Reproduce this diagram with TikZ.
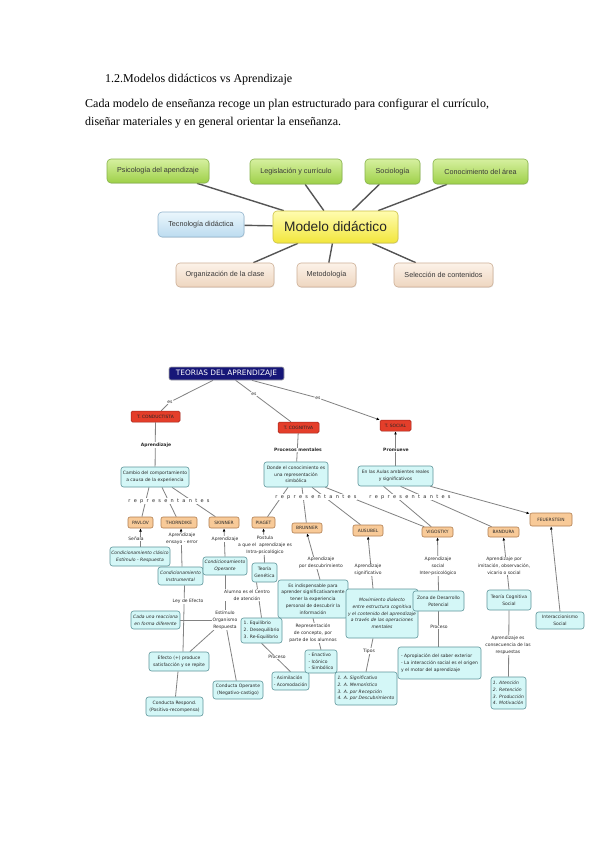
\documentclass[tikz,border=0pt]{standalone}
\usepackage{fontspec}
\setmainfont{Liberation Serif}
\newfontfamily\arialf{Liberation Sans}
\newfontfamily\cmapf{DejaVu Sans}
\usetikzlibrary{arrows.meta,shadows}
\pgfdeclarelayer{bgpage}
\pgfdeclarelayer{bglines}
\pgfsetlayers{bgpage,bglines,main}

\definecolor{gtop}{RGB}{214,240,160}
\definecolor{gbot}{RGB}{158,208,72}
\definecolor{gdraw}{RGB}{135,180,75}
\definecolor{ytop}{RGB}{255,252,175}
\definecolor{ybot}{RGB}{242,230,60}
\definecolor{ydraw}{RGB}{205,195,70}
\definecolor{btop}{RGB}{235,246,252}
\definecolor{bbot}{RGB}{188,220,240}
\definecolor{bdraw}{RGB}{145,180,205}
\definecolor{ttop}{RGB}{252,242,232}
\definecolor{tbot}{RGB}{238,214,192}
\definecolor{tdraw}{RGB}{205,175,150}
\definecolor{mline}{RGB}{85,85,85}
\definecolor{cfill}{RGB}{212,247,247}
\definecolor{cdraw}{RGB}{95,150,155}
\definecolor{pfill}{RGB}{248,202,152}
\definecolor{pdraw}{RGB}{175,125,80}
\definecolor{rfill}{RGB}{228,62,42}
\definecolor{rdraw}{RGB}{160,35,25}
\definecolor{navyc}{RGB}{22,22,120}
\definecolor{clinec}{RGB}{130,130,130}
\definecolor{ctext}{RGB}{40,40,40}

\newcommand\cmf{\cmapf\fontsize{4.5}{6.8}\selectfont}
\newcommand\repword{{\spaceskip=3.3pt plus 0pt r e p r e s e n t a n t e s}}

\tikzset{
  mb/.style={rounded corners=4pt, draw, line width=0.6pt, inner sep=0pt,
    font=\arialf\fontsize{7.2}{8}\selectfont, text=black!78,
    drop shadow={opacity=0.18,shadow xshift=0.6pt,shadow yshift=-0.8pt}},
  mgreen/.style={mb, top color=gtop, bottom color=gbot, draw=gdraw},
  myellow/.style={mb, top color=ytop, bottom color=ybot, draw=ydraw},
  mblue/.style={mb, top color=btop, bottom color=bbot, draw=bdraw},
  mtan/.style={mb, top color=ttop, bottom color=tbot, draw=tdraw},
  sz/.style 2 args={minimum width=#1pt, minimum height=#2pt},
  ml/.style={draw=mline, line width=1.4pt},
  cb/.style={draw=cdraw, fill=cfill, rounded corners=2.5pt, line width=0.6pt,
    inner sep=0.8pt, font=\cmf, text=ctext, align=center},
  pb/.style={draw=pdraw, fill=pfill, rounded corners=2pt, line width=0.6pt,
    inner sep=0.5pt, font=\cmapf\fontsize{4.4}{5}\selectfont, text=ctext},
  rb/.style={draw=rdraw, fill=rfill, rounded corners=1.5pt, line width=0.5pt,
    inner sep=0.5pt, font=\cmapf\fontsize{4.4}{5}\selectfont, text=black!85},
  tb/.style={draw=black!35, fill=navyc, rounded corners=2pt, line width=0.6pt,
    inner sep=0.5pt, font=\cmapf\fontsize{7.4}{8}\selectfont, text=white},
  lb/.style={fill=white, inner sep=0.6pt, font=\cmf, text=ctext, align=center},
  cl/.style={draw=clinec, line width=0.8pt},
  ar/.style={-{Latex[length=3.2pt,width=2.8pt,color=black]}},
}

\begin{document}
\begin{tikzpicture}[x=1pt,y=-1pt]
\begin{pgfonlayer}{bgpage}
\fill[white] (0,0) rectangle (599,848);
\end{pgfonlayer}
\useasboundingbox (0,0) rectangle (599,848);

% ---------- header text ----------
\node[anchor=base west, inner sep=0, font=\fontsize{12}{14}\selectfont] (title) at (105,83)
  {1.2.Modelos didácticos vs Aprendizaje};
\node[anchor=base west, inner sep=0, font=\fontsize{12}{14}\selectfont] (par1) at (85,108)
  {Cada modelo de enseñanza recoge un plan estructurado para configurar el currículo,};
\node[anchor=base west, inner sep=0, font=\fontsize{12}{14}\selectfont] (par2) at (85,125)
  {diseñar materiales y en general orientar la enseñanza.};

% ---------- Modelo didactico ----------
\node[mgreen, sz={102}{24}] (psi) at (158,171) {Psicología del apendizaje};
\node[mgreen, sz={92}{25}] (leg) at (296,171.5) {Legislación y currículo};
\node[mgreen, sz={55}{25}] (soc) at (392.5,171.5) {Sociología};
\node[mgreen, sz={95}{25}] (con) at (480.5,171.5) {Conocimiento del área};
\node[mblue, sz={86}{25}] (tec) at (201,224.5) {Tecnología didáctica};
\node[myellow, sz={125}{32}, font=\arialf\fontsize{13.7}{15}\selectfont, text=black!85] (mod) at (335.5,227) {Modelo didáctico};
\node[mtan, sz={98}{24}] (org) at (225,275) {Organización de la clase};
\node[mtan, sz={59}{24}] (met) at (326.5,275) {Metodología};
\node[mtan, sz={99}{24}] (sel) at (443.5,275) {Selección de contenidos};

\begin{pgfonlayer}{bglines}
\foreach \n in {psi,leg,soc,con,tec,org,met,sel} {\draw[ml] (\n) -- (mod);}
\end{pgfonlayer}

% ---------- Teorias del aprendizaje ----------
\node[tb, sz={115}{13}] (teo) at (226.5,373.5) {TEORIAS DEL APRENDIZAJE};
\node[rb, sz={49}{11}] (cond) at (155.5,416.5) {T. CONDUCTISTA};
\node[rb, sz={41}{11}] (cogn) at (298.5,427.5) {T. COGNITIVA};
\node[rb, sz={31}{11}] (tsoc) at (395.5,425.5) {T. SOCIAL};

\node[lb] (es1) at (170,402) {es};
\node[lb] (es2) at (254,394) {es};
\node[lb] (es3) at (318,398) {es};

\node[lb, font=\cmf\bfseries] (lapr) at (156,445) {Aprendizaje};
\node[lb, font=\cmf\bfseries] (lpro) at (298,450) {Procesos mentales};
\node[lb, font=\cmf\bfseries] (lpromu) at (396,450) {Promueve};

\node[cb, sz={68}{20}] (cam) at (155,477) {Cambio del comportamiento\\a causa de la experiencia};
\node[cb, sz={64}{25}] (don) at (296,474.5) {Donde el conocimiento es\\una representación\\simbólica};
\node[cb, sz={75}{20}] (aul) at (395.5,476) {En las Aulas ambientes reales\\y significativos};

\node[lb, font=\cmapf\fontsize{5}{6}\selectfont] (rep1) at (169,501) {\repword};
\node[lb, font=\cmapf\fontsize{5}{6}\selectfont] (rep2) at (316,497) {\repword};
\node[lb, font=\cmapf\fontsize{5}{6}\selectfont] (rep3) at (410,497) {\repword};

\node[pb, sz={25}{11}] (pav) at (140.5,522.5) {PAVLOV};
\node[pb, sz={36}{11}] (tho) at (179,522.5) {THORNDIKE};
\node[pb, sz={30}{11}] (ski) at (224,522.5) {SKINNER};
\node[pb, sz={23}{11}] (pia) at (263.5,522.5) {PIAGET};
\node[pb, sz={30}{10}] (bru) at (307,528) {BRUNNER};
\node[pb, sz={30}{11}] (aus) at (368,530.5) {AUSUBEL};
\node[pb, sz={31}{10}] (vig) at (437.5,532) {VIGOSTKY};
\node[pb, sz={31}{10}] (ban) at (503.5,532) {BANDURA};
\node[pb, sz={42}{13}] (feu) at (551,519.5) {FEUERSTEIN};

% labels level 2
\node[lb] (lsen) at (136,539) {Señala};
\node[lb] (lens) at (182,539) {Aprendizaje\\ensayo - error};
\node[lb] (lski) at (225,539) {Aprendizaje};
\node[lb] (lpos) at (265,545) {Postula\\a que el \ aprendizaje es\\Intra-psicológico};
\node[lb] (ldes) at (321,563) {Aprendizaje\\por descubrimiento};
\node[lb] (lsig) at (368,570) {Aprendizaje\\significativo};
\node[lb] (lsoc) at (438,566) {Aprendizaje\\social\\Inter-psicológico};
\node[lb] (limi) at (504,566) {Aprendizaje por\\imitación, observación,\\vicario o social};

% boxes level 2
\node[cb, sz={60}{19}, font=\cmf\itshape] (cla) at (140,556.5) {Condicionamiento clásico\\Estímulo - Respuesta};
\node[cb, sz={45}{18}, font=\cmf\itshape] (ins) at (180.5,576) {Condicionamiento\\Instrumental};
\node[cb, sz={44}{18}, font=\cmf\itshape] (ope) at (225,566) {Condicionamiento\\Operante};
\node[cb, sz={25}{19}] (gen) at (264.5,572.5) {Teoría\\Genética};
\node[cb, sz={70}{38}] (ind) at (313,599) {Es indispensable para\\aprender significativamente\\tener la experiencia\\personal de descubrir la\\información};
\node[cb, sz={72}{49}, font=\cmf\itshape] (mov) at (382,613.5) {Movimiento dialecto\\entre estructura cognitiva\\y el contenido del aprendizaje\\a través de las operaciones\\mentales};
\node[cb, sz={51}{20}] (zon) at (438.5,601) {Zona de Desarrollo\\Potencial};
\node[cb, sz={44}{20}] (tcs) at (509,600) {Teoría Cognitiva\\Social};
\node[cb, sz={48}{17}] (int) at (560,620.5) {Interaccionismo\\Social};

% labels level 3
\node[lb] (lley) at (188,601) {Ley de Efecto};
\node[lb] (lalu) at (247,595) {Alumno es el Centro\\de atención};
\node[lb] (leor) at (225,620) {Estímulo\\Organismo\\Respuesta};
\node[lb] (lpr1) at (277,657) {Proceso};
\node[lb] (lrep) at (313,633) {Representación\\de concepto, por\\parte de los alumnos};
\node[lb] (ltip) at (369,651) {Tipos};
\node[lb] (lpr2) at (439,627) {Proceso};
\node[lb] (lcon) at (508,645) {Aprendizaje es\\consecuencia de las\\respuestas};

% boxes level 3
\node[cb, sz={49}{18}, font=\cmf\itshape] (cad) at (155.5,620) {Cada una reacciona\\en forma diferente};
\node[cb, sz={60}{19}] (efe) at (179,661.5) {Efecto (+) produce\\satisfacción y se repite};
\node[cb, sz={50}{18}] (cop) at (238,690) {Conducta Operante\\(Negativo-castigo)};
\node[cb, sz={57}{19}] (cre) at (174.5,706.5) {Conducta Respond.\\(Positivo-recompensa)};
\node[cb, sz={41}{25}, align=left] (equ) at (261.5,630.5) {1. Equilibrio\\2. Desequilibrio\\3. Re-Equilibrio};
\node[cb, sz={37}{18}, align=left] (asi) at (290.5,681) {- Asimilación\\- Acomodación};
\node[cb, sz={32}{23}, align=left] (ena) at (321,661.5) {- Enactivo\\- Icónico\\- Simbólico};
\node[cb, sz={62}{33}, align=left, font=\cmf\itshape] (tip) at (366,688.5) {1. A. Significativo\\2. A. Memorístico\\3. A. por Recepción\\4. A. por Descubrimiento};
\node[cb, sz={83}{32}, align=left] (apr) at (439.5,663) {- Apropiación del saber exterior\\- La interacción social es el origen\\y el motor del aprendizaje};
\node[cb, sz={35}{32}, align=left, font=\cmf\itshape] (ate) at (508.5,693) {1. Atención\\2. Retención\\3. Producción\\4. Motivación};

\begin{pgfonlayer}{bglines}
% top level
\draw[cl] (teo) -- (es1); \draw[cl] (es1) -- (cond);
\draw[cl] (teo) -- (es2); \draw[cl] (es2) -- (cogn);
\draw[cl] (teo) -- (es3); \draw[cl,ar] (es3) -- (tsoc);
\draw[cl] (cond) -- (cam);
\draw[cl] (cogn) -- (don);
\draw[cl,ar] (aul.north) -- (tsoc.south);
% representantes
\draw[cl] ([xshift=-6pt]cam.south) -- (pav);
\draw[cl] ([xshift=7pt]cam.south) -- (tho);
\draw[cl] ([xshift=17pt]cam.south) -- (ski);
\draw[cl] ([xshift=-8pt]don.south) -- (pia);
\draw[cl] ([xshift=6pt]don.south) -- (bru);
\draw[cl] ([xshift=16pt]don.south) -- (aus);
\draw[cl] ([xshift=-3pt]don.south east) -- (vig);
\draw[cl] ([xshift=-12pt]aul.south) -- (vig);
\draw[cl] ([xshift=5pt]aul.south) -- (ban);
\draw[cl,ar] ([xshift=-3pt]aul.south east) -- (feu);
% up to persons
\draw[cl,ar] (cla.north -| pav) -- (pav.south);
\draw[cl,ar] ([xshift=1.5pt]ins.north) -- ([xshift=2pt]tho.south);
\draw[cl,ar] (ope.north) -- (ski.south);
\draw[cl,ar] (gen.north) -- (pia.south);
\draw[cl,ar] ([xshift=7pt]ind.north) -- (bru.south);
\draw[cl,ar] ([xshift=-9pt]mov.north) -- (aus.south);
\draw[cl,ar] (zon.north) -- (vig.south);
\draw[cl,ar] (tcs.north) -- (ban.south);
\draw[cl,ar] (int.north) -- (feu.south);
% lower links
\draw[cl] ([xshift=4pt]ins.south) -- ([xshift=4pt]efe.north);
\draw[cl] (ope.south) -- (leor.north);
\draw[cl] (leor) -- (efe);
\draw[cl] (leor) -- (cop);
\draw[cl] (leor.west) -- (cad.east |- leor.west);
\draw[cl] (efe) -- (cre);
\draw[cl] ([xshift=-8pt]gen.south) -- (equ.north);
\draw[cl] (equ.south) -- (asi.north);
\draw[cl] (ind.south) -- (ena.north);
\draw[cl] ([xshift=-9pt]mov.south) -- (tip.north);
\draw[cl] (zon.south) -- (zon.south |- apr.north);
\draw[cl] (tcs.south) -- (ate.north);
\end{pgfonlayer}
\end{tikzpicture}
\end{document}
